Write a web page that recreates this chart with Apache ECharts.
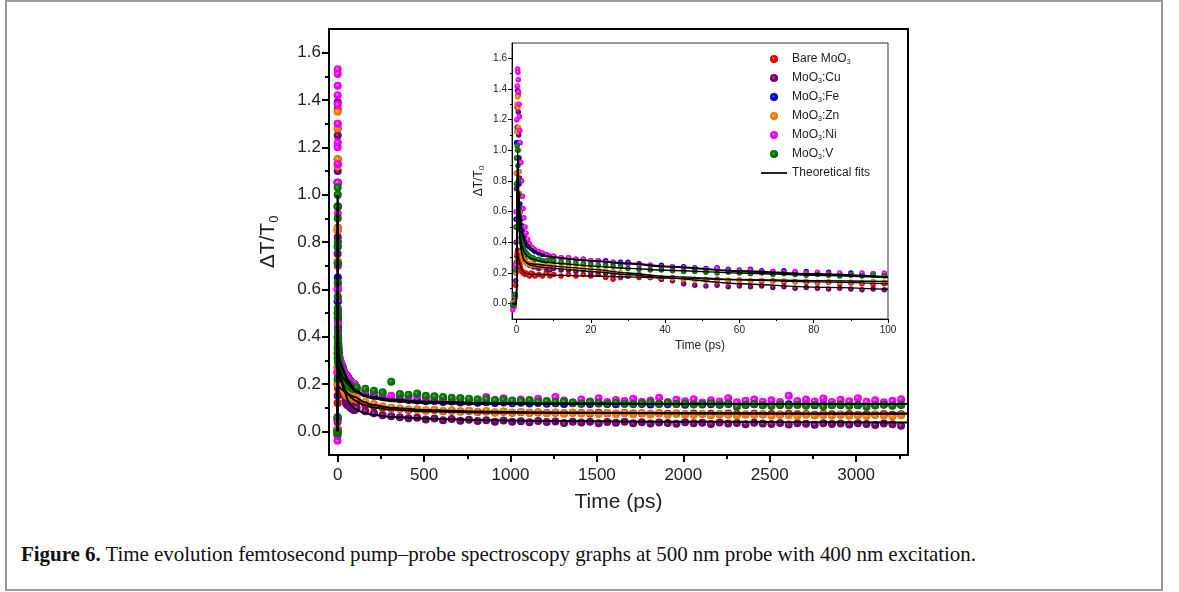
<!DOCTYPE html>
<html>
<head>
<meta charset="utf-8">
<script src="https://cdn.jsdelivr.net/npm/echarts@6/dist/echarts.min.js"></script>
<style>
  html, body { margin: 0; padding: 0; background: #fff; }
  #frame {
    position: absolute; left: 5px; top: 0px; width: 1154px; height: 587px;
    border: 2px solid #9a9a9a;
  }
  #caption {
    position: absolute; left: 21px; top: 542px;
    font-family: "Liberation Serif", "DejaVu Serif", serif; font-size: 21px;
    color: #111; white-space: nowrap; letter-spacing: -0.05px;
  }
  #chart { position: absolute; left: 0; top: 0; width: 1179px; height: 592px; }
</style>
</head>
<body>
<div id="frame"></div>
<div id="caption"><b>Figure 6.</b> Time evolution femtosecond pump–probe spectroscopy graphs at 500 nm probe with 400 nm excitation.</div>
<div id="chart"></div>
<script>
// Delay times (ps) shared by every sample
const times = [
  -1.0, -0.6, -0.4, -0.2, -0.1, 0, 0.1, 0.2, 0.3, 0.4, 0.5,
  0.6, 0.7, 0.8, 0.9, 1.0, 1.2, 1.4, 1.6, 1.8, 2.0, 2.3,
  2.6, 3.0, 3.5, 4, 4.5, 5, 6, 7, 8, 9, 10,
  12, 14, 16, 18, 20, 22, 24, 26, 28, 30, 33,
  36, 39, 42, 45, 48, 51, 54, 57, 60, 63, 66,
  69, 72, 75, 78, 81, 84, 87, 90, 93, 96, 99,
  110, 160, 210, 260, 310, 360, 410, 460,
  510, 560, 610, 660, 710, 760, 810, 860,
  910, 960, 1010, 1060, 1110, 1160, 1210, 1260,
  1310, 1360, 1410, 1460, 1510, 1560, 1610, 1660,
  1710, 1760, 1810, 1860, 1910, 1960, 2010, 2060,
  2110, 2160, 2210, 2260, 2310, 2360, 2410, 2460,
  2510, 2560, 2610, 2660, 2710, 2760, 2810, 2860,
  2910, 2960, 3010, 3060, 3110, 3160, 3210, 3260
];

// ΔT/T0 for each sample
const bareMoO3 = [
  0.00, 0.01, 0.05, 0.12, 0.20, 0.27, 0.31, 0.33, 0.35, 0.33, 0.31,
  0.29, 0.27, 0.26, 0.25, 0.24, 0.22, 0.21, 0.21, 0.20, 0.20, 0.19,
  0.20, 0.19, 0.18, 0.20, 0.19, 0.18, 0.19, 0.18, 0.20, 0.18, 0.19,
  0.18, 0.19, 0.18, 0.19, 0.18, 0.19, 0.17, 0.16, 0.17, 0.18, 0.17,
  0.17, 0.16, 0.17, 0.16, 0.16, 0.155, 0.16, 0.15, 0.155, 0.15, 0.145,
  0.15, 0.14, 0.145, 0.14, 0.135, 0.14, 0.13, 0.135, 0.13, 0.125, 0.13,
  0.120, 0.110, 0.105, 0.100, 0.098, 0.095, 0.090, 0.092,
  0.088, 0.090, 0.085, 0.087, 0.084, 0.086, 0.082, 0.084,
  0.080, 0.083, 0.079, 0.081, 0.078, 0.080, 0.077, 0.079,
  0.076, 0.078, 0.077, 0.075, 0.078, 0.076, 0.074, 0.077,
  0.075, 0.076, 0.073, 0.076, 0.074, 0.075, 0.072, 0.075,
  0.073, 0.074, 0.072, 0.075, 0.073, 0.071, 0.074, 0.072,
  0.073, 0.071, 0.074, 0.072, 0.073, 0.070, 0.073, 0.072,
  0.071, 0.073, 0.070, 0.072, 0.071, 0.073, 0.070, 0.072
];
const moo3Cu = [
  -0.01, 0.00, 0.04, 0.15, 0.40, 0.75, 1.05, 1.28, 1.39, 1.36, 1.25,
  1.10, 0.95, 0.82, 0.70, 0.60, 0.48, 0.40, 0.35, 0.32, 0.30, 0.28,
  0.27, 0.26, 0.25, 0.25, 0.24, 0.24, 0.23, 0.24, 0.23, 0.22, 0.23,
  0.22, 0.22, 0.21, 0.22, 0.20, 0.21, 0.20, 0.19, 0.20, 0.18, 0.19,
  0.17, 0.16, 0.15, 0.13, 0.12, 0.115, 0.12, 0.11, 0.115, 0.11, 0.115,
  0.105, 0.11, 0.10, 0.105, 0.10, 0.095, 0.10, 0.095, 0.09, 0.095, 0.09,
  0.100, 0.085, 0.076, 0.068, 0.064, 0.060, 0.055, 0.057,
  0.050, 0.054, 0.047, 0.052, 0.045, 0.049, 0.044, 0.047,
  0.041, 0.046, 0.040, 0.043, 0.038, 0.044, 0.039, 0.042,
  0.035, 0.041, 0.037, 0.040, 0.034, 0.039, 0.036, 0.041,
  0.034, 0.038, 0.033, 0.037, 0.035, 0.032, 0.038, 0.034,
  0.036, 0.031, 0.037, 0.033, 0.035, 0.030, 0.036, 0.033,
  0.031, 0.035, 0.029, 0.034, 0.032, 0.028, 0.034, 0.031,
  0.033, 0.029, 0.034, 0.031, 0.027, 0.033, 0.030, 0.024
];
const moo3Fe = [
  0.00, 0.01, 0.06, 0.25, 0.55, 0.85, 1.05, 1.15, 1.13, 1.05, 0.95,
  0.86, 0.78, 0.71, 0.65, 0.60, 0.55, 0.51, 0.48, 0.46, 0.44, 0.42,
  0.40, 0.38, 0.37, 0.36, 0.35, 0.34, 0.33, 0.32, 0.32, 0.31, 0.31,
  0.30, 0.30, 0.29, 0.29, 0.28, 0.28, 0.28, 0.27, 0.27, 0.27, 0.26,
  0.25, 0.25, 0.24, 0.24, 0.235, 0.23, 0.235, 0.225, 0.22, 0.225, 0.215,
  0.21, 0.215, 0.205, 0.21, 0.20, 0.205, 0.195, 0.20, 0.19, 0.195, 0.185,
  0.175, 0.160, 0.150, 0.145, 0.140, 0.136, 0.132, 0.130,
  0.127, 0.128, 0.124, 0.126, 0.122, 0.124, 0.121, 0.123,
  0.120, 0.122, 0.119, 0.121, 0.118, 0.120, 0.117, 0.119,
  0.116, 0.119, 0.117, 0.115, 0.118, 0.116, 0.114, 0.117,
  0.115, 0.116, 0.113, 0.116, 0.114, 0.115, 0.112, 0.115,
  0.113, 0.114, 0.112, 0.115, 0.113, 0.111, 0.114, 0.112,
  0.113, 0.111, 0.114, 0.112, 0.113, 0.110, 0.113, 0.112,
  0.111, 0.113, 0.110, 0.112, 0.111, 0.113, 0.110, 0.112
];
const moo3Zn = [
  0.00, 0.01, 0.05, 0.20, 0.50, 0.85, 1.12, 1.30, 1.35, 1.28, 1.15,
  1.00, 0.86, 0.72, 0.60, 0.50, 0.40, 0.34, 0.31, 0.29, 0.28, 0.27,
  0.27, 0.26, 0.26, 0.25, 0.26, 0.25, 0.25, 0.24, 0.25, 0.24, 0.25,
  0.24, 0.24, 0.23, 0.235, 0.225, 0.22, 0.215, 0.21, 0.20, 0.19, 0.185,
  0.175, 0.17, 0.165, 0.16, 0.155, 0.16, 0.15, 0.155, 0.15, 0.148, 0.152,
  0.145, 0.15, 0.142, 0.146, 0.14, 0.144, 0.138, 0.142, 0.14, 0.145, 0.14,
  0.140, 0.125, 0.115, 0.106, 0.100, 0.097, 0.093, 0.091,
  0.088, 0.091, 0.086, 0.089, 0.084, 0.087, 0.082, 0.086,
  0.080, 0.084, 0.078, 0.082, 0.077, 0.081, 0.076, 0.080,
  0.074, 0.079, 0.075, 0.078, 0.073, 0.077, 0.074, 0.076,
  0.072, 0.076, 0.071, 0.075, 0.070, 0.074, 0.072, 0.069,
  0.073, 0.068, 0.072, 0.070, 0.067, 0.072, 0.069, 0.071,
  0.066, 0.071, 0.068, 0.065, 0.070, 0.067, 0.069, 0.066,
  0.070, 0.066, 0.068, 0.065, 0.069, 0.067, 0.064, 0.068
];
const moo3Ni = [
  -0.04, -0.02, 0.05, 0.25, 0.60, 0.95, 1.20, 1.42, 1.53, 1.51, 1.46,
  1.38, 1.30, 1.22, 1.13, 1.05, 0.92, 0.80, 0.70, 0.62, 0.56, 0.50,
  0.46, 0.42, 0.39, 0.37, 0.36, 0.35, 0.34, 0.33, 0.32, 0.31, 0.31,
  0.30, 0.30, 0.29, 0.29, 0.28, 0.28, 0.27, 0.27, 0.26, 0.26, 0.25,
  0.25, 0.24, 0.24, 0.235, 0.23, 0.225, 0.23, 0.22, 0.215, 0.22, 0.21,
  0.21, 0.205, 0.21, 0.20, 0.205, 0.195, 0.20, 0.19, 0.20, 0.195, 0.20,
  0.185, 0.170, 0.165, 0.160, 0.150, 0.155, 0.145, 0.150,
  0.140, 0.145, 0.135, 0.130, 0.140, 0.125, 0.135, 0.145,
  0.130, 0.140, 0.125, 0.135, 0.128, 0.138, 0.125, 0.145,
  0.130, 0.122, 0.135, 0.126, 0.140, 0.124, 0.132, 0.128,
  0.138, 0.125, 0.130, 0.142, 0.124, 0.133, 0.127, 0.136,
  0.122, 0.131, 0.126, 0.140, 0.123, 0.129, 0.134, 0.125,
  0.131, 0.124, 0.150, 0.128, 0.135, 0.126, 0.139, 0.124,
  0.133, 0.127, 0.140, 0.125, 0.131, 0.123, 0.129, 0.136
];
const moo3V = [
  -0.01, 0.00, 0.06, 0.22, 0.50, 0.78, 0.95, 1.03, 1.00, 0.90, 0.80,
  0.71, 0.63, 0.57, 0.52, 0.48, 0.43, 0.40, 0.38, 0.36, 0.35, 0.34,
  0.33, 0.32, 0.31, 0.30, 0.30, 0.29, 0.29, 0.28, 0.28, 0.28, 0.28,
  0.27, 0.27, 0.265, 0.26, 0.255, 0.25, 0.25, 0.245, 0.24, 0.23, 0.225,
  0.22, 0.22, 0.215, 0.21, 0.21, 0.205, 0.20, 0.205, 0.20, 0.195, 0.20,
  0.19, 0.195, 0.19, 0.185, 0.19, 0.185, 0.18, 0.185, 0.18, 0.185, 0.18,
  0.185, 0.180, 0.172, 0.165, 0.210, 0.158, 0.155, 0.160,
  0.150, 0.148, 0.145, 0.142, 0.140, 0.138, 0.135, 0.137,
  0.132, 0.135, 0.130, 0.128, 0.132, 0.126, 0.128, 0.124,
  0.126, 0.122, 0.118, 0.124, 0.120, 0.117, 0.121, 0.118,
  0.115, 0.119, 0.122, 0.117, 0.120, 0.115, 0.118, 0.113,
  0.116, 0.119, 0.113, 0.117, 0.104, 0.112, 0.116, 0.110,
  0.107, 0.113, 0.109, 0.112, 0.108, 0.111, 0.106, 0.110,
  0.112, 0.108, 0.111, 0.104, 0.109, 0.112, 0.108, 0.111
];

// Theoretical fit curves, sampled at these delays
const fitTimes = [-1, 0, 0.3, 0.6, 1, 1.5, 2, 3, 4, 6, 8, 10, 15, 20, 30, 40,
                  60, 80, 100, 150, 200, 300, 500, 800, 1200, 1800, 2500, 3300];
const fitBare = [0, 0, 0.33, 0.29, 0.25, 0.22, 0.205, 0.195, 0.19, 0.19, 0.188, 0.186, 0.183, 0.18, 0.175, 0.168,
                 0.155, 0.142, 0.13, 0.112, 0.102, 0.092, 0.085, 0.08, 0.078, 0.076, 0.075, 0.075];
const fitCu = [0, 0, 0.9, 0.6, 0.42, 0.33, 0.29, 0.26, 0.25, 0.24, 0.235, 0.23, 0.22, 0.21, 0.19, 0.168,
               0.13, 0.108, 0.094, 0.078, 0.07, 0.062, 0.054, 0.048, 0.044, 0.041, 0.039, 0.037];
const fitFe = [0, 0, 1.0, 0.75, 0.58, 0.48, 0.43, 0.39, 0.36, 0.33, 0.315, 0.305, 0.29, 0.28, 0.265, 0.245,
               0.215, 0.195, 0.175, 0.155, 0.145, 0.135, 0.126, 0.12, 0.117, 0.116, 0.115, 0.115];
const fitZn = [0, 0, 0.9, 0.55, 0.38, 0.31, 0.28, 0.265, 0.26, 0.255, 0.25, 0.245, 0.235, 0.225, 0.2, 0.178,
               0.158, 0.15, 0.145, 0.125, 0.112, 0.1, 0.09, 0.084, 0.08, 0.077, 0.075, 0.074];
const fitNi = [0, 0, 0.95, 0.7, 0.55, 0.46, 0.41, 0.37, 0.35, 0.325, 0.31, 0.3, 0.29, 0.28, 0.26, 0.24,
               0.21, 0.19, 0.172, 0.152, 0.142, 0.132, 0.124, 0.12, 0.118, 0.117, 0.116, 0.116];
const fitV = [0, 0, 1.0, 0.62, 0.45, 0.38, 0.34, 0.31, 0.295, 0.28, 0.27, 0.265, 0.255, 0.245, 0.23, 0.218,
              0.2, 0.185, 0.17, 0.15, 0.14, 0.128, 0.12, 0.116, 0.115, 0.115, 0.115, 0.115];

const sampleNames = ['Bare MoO3', 'MoO3:Cu', 'MoO3:Fe', 'MoO3:Zn', 'MoO3:Ni', 'MoO3:V'];
const sampleValues = [bareMoO3, moo3Cu, moo3Fe, moo3Zn, moo3Ni, moo3V];
const fitValues = [fitBare, fitCu, fitFe, fitZn, fitNi, fitV];
const fitName = 'Theoretical fits';

// Tick positions
const mainXTicks = [0, 500, 1000, 1500, 2000, 2500, 3000];
const mainXMinor = [250, 750, 1250, 1750, 2250, 2750, 3250];
const mainYTicks = [0, 0.2, 0.4, 0.6, 0.8, 1.0, 1.2, 1.4, 1.6];
const mainYMinor = [0.1, 0.3, 0.5, 0.7, 0.9, 1.1, 1.3, 1.5];
const insetXTicks = [0, 20, 40, 60, 80, 100];
const insetXMinor = [10, 30, 50, 70, 90];
const insetYTicks = [0, 0.2, 0.4, 0.6, 0.8, 1.0, 1.2, 1.4, 1.6];
const insetYMinor = [0.1, 0.3, 0.5, 0.7, 0.9, 1.1, 1.3, 1.5];

// shaded-ball marker colours: highlight, body, rim
const ballColors = [
  ['#ff8080', '#f00000', '#c80000'],
  ['#b070b0', '#800080', '#600060'],
  ['#8080ff', '#0000f0', '#0000c0'],
  ['#ffc080', '#ff8000', '#e07000'],
  ['#ffa0ff', '#ff00ff', '#d800d8'],
  ['#70b070', '#008000', '#006400']
];
function ball(c) {
  return {
    type: 'radial', x: 0.42, y: 0.42, r: 0.6,
    colorStops: [
      { offset: 0, color: c[0] },
      { offset: 0.35, color: c[1] },
      { offset: 1, color: c[2] }
    ]
  };
}

function pairs(ts, vs, tMax) {
  const out = [];
  const n = Math.min(ts.length, vs.length);
  for (let i = 0; i < n; i++) {
    if (ts[i] <= tMax) out.push([ts[i], vs[i]]);
  }
  return out;
}

const FONT = '"Liberation Sans", Arial, sans-serif';

function valueAxis(gridIndex, min, max, opts) {
  return Object.assign({
    type: 'value', gridIndex: gridIndex, min: min, max: max,
    splitLine: { show: false },
    axisLine: { show: true, onZero: false, lineStyle: { color: '#000', width: opts.lw } },
    axisTick: { show: true, inside: false, length: opts.tl, customValues: opts.ticks,
                lineStyle: { color: '#000', width: opts.lw } },
    axisLabel: { show: opts.labels, customValues: opts.ticks, fontFamily: FONT,
                 fontSize: opts.fs, color: '#222', margin: opts.margin,
                 formatter: opts.fmt }
  }, opts.extra || {});
}

function minorAxis(gridIndex, min, max, ticks, len, lw, pos) {
  return {
    type: 'value', gridIndex: gridIndex, min: min, max: max, position: pos,
    splitLine: { show: false },
    axisLine: { show: false, onZero: false },
    axisLabel: { show: false },
    axisTick: { show: true, inside: false, length: len, customValues: ticks,
                lineStyle: { color: '#000', width: lw } }
  };
}

const fmt1 = v => v.toFixed(1);
const fmt0 = v => String(Math.round(v));

const xAxes = [
  valueAxis(0, -50, 3300, { lw: 2, tl: 7, ticks: mainXTicks, labels: true, fs: 17, margin: 12, fmt: fmt0,
    extra: { position: 'bottom', name: 'Time (ps)', nameLocation: 'middle', nameGap: 37,
             nameTextStyle: { fontFamily: FONT, fontSize: 21, color: '#222' } } }),
  minorAxis(0, -50, 3300, mainXMinor, 4, 2, 'bottom'),
  valueAxis(1, -1.2, 100, { lw: 1, tl: 4, ticks: insetXTicks, labels: true, fs: 10, margin: 6, fmt: fmt0,
    extra: { position: 'bottom', name: 'Time (ps)', nameLocation: 'middle', nameGap: 21,
             nameTextStyle: { fontFamily: FONT, fontSize: 12, color: '#222' } } }),
  minorAxis(1, -1.2, 100, insetXMinor, 2, 1, 'bottom')
];
const yAxes = [
  valueAxis(0, -0.1, 1.7, { lw: 2, tl: 7, ticks: mainYTicks, labels: true, fs: 17, margin: 8, fmt: fmt1,
    extra: { position: 'left', name: '{a|ΔT/T}{b|0}', nameLocation: 'middle', nameGap: 48,
             nameTextStyle: { rich: {
               a: { fontFamily: FONT, fontSize: 21, color: '#222' },
               b: { fontFamily: FONT, fontSize: 13, color: '#222', padding: [12, 0, 0, 0] } } } } }),
  minorAxis(0, -0.1, 1.7, mainYMinor, 4, 2, 'left'),
  valueAxis(1, -0.1, 1.7, { lw: 1, tl: 4, ticks: insetYTicks, labels: true, fs: 10, margin: 5, fmt: fmt1,
    extra: { position: 'left', name: '{a|ΔT/T}{b|0}', nameLocation: 'middle', nameGap: 26,
             nameTextStyle: { rich: {
               a: { fontFamily: FONT, fontSize: 12, color: '#222' },
               b: { fontFamily: FONT, fontSize: 8, color: '#222', padding: [7, 0, 0, 0] } } } } }),
  minorAxis(1, -0.1, 1.7, insetYMinor, 2, 1, 'left')
];

const series = [];
// main panel then inset: points first, fit lines on top
[[0, 0, 3400, 8, 2], [2, 2, 100, 5.5, 1.4]].forEach(([xi, yi, tMax, size, lw]) => {
  sampleNames.forEach((name, k) => {
    series.push({
      type: 'scatter', name: name, xAxisIndex: xi, yAxisIndex: yi,
      symbol: 'circle', symbolSize: size, clip: true,
      itemStyle: { color: ball(ballColors[k]), borderWidth: 0, opacity: 1 },
      data: pairs(times, sampleValues[k], tMax), z: 2
    });
  });
  fitValues.forEach(fv => {
    series.push({
      type: 'line', name: fitName, xAxisIndex: xi, yAxisIndex: yi,
      symbol: 'none', showSymbol: false, smooth: 0.25, smoothMonotone: 'x', clip: true,
      lineStyle: { color: '#000', width: lw },
      itemStyle: { color: '#000' },
      data: pairs(fitTimes, fv, tMax), z: 3
    });
  });
});

const legendRich = {
  n: { fontFamily: FONT, fontSize: 12, color: '#222' },
  s: { fontFamily: FONT, fontSize: 7, color: '#222', padding: [7, 0, 0, 0] }
};
function legendText(name) {
  if (name.indexOf('MoO3') < 0) return '{n|' + name + '}';
  const parts = name.split('MoO3');
  return '{n|' + parts[0] + 'MoO}{s|3}{n|' + parts[1] + '}';
}

const chart = echarts.init(document.getElementById('chart'), null, { renderer: 'canvas' });
chart.setOption({
  animation: false,
  backgroundColor: 'transparent',
  grid: [
    { left: 329, top: 29, width: 579, height: 426, show: true, borderColor: '#000', borderWidth: 2,
      backgroundColor: 'transparent', containLabel: false },
    { left: 512, top: 43, width: 376, height: 276, show: true, borderColor: '#333', borderWidth: 1,
      backgroundColor: '#fff', containLabel: false }
  ],
  xAxis: xAxes,
  yAxis: yAxes,
  legend: {
    orient: 'vertical', left: 756, top: 48,
    itemWidth: 26, itemHeight: 8, itemGap: 6,
    data: sampleNames.map(n => ({ name: n })).concat([
      { name: fitName, icon: 'path://M0,0 L30,0 L30,2 L0,2 Z' }
    ]),
    formatter: legendText,
    textStyle: { rich: legendRich },
    selectedMode: false
  },
  series: series
});
</script>
</body>
</html>
